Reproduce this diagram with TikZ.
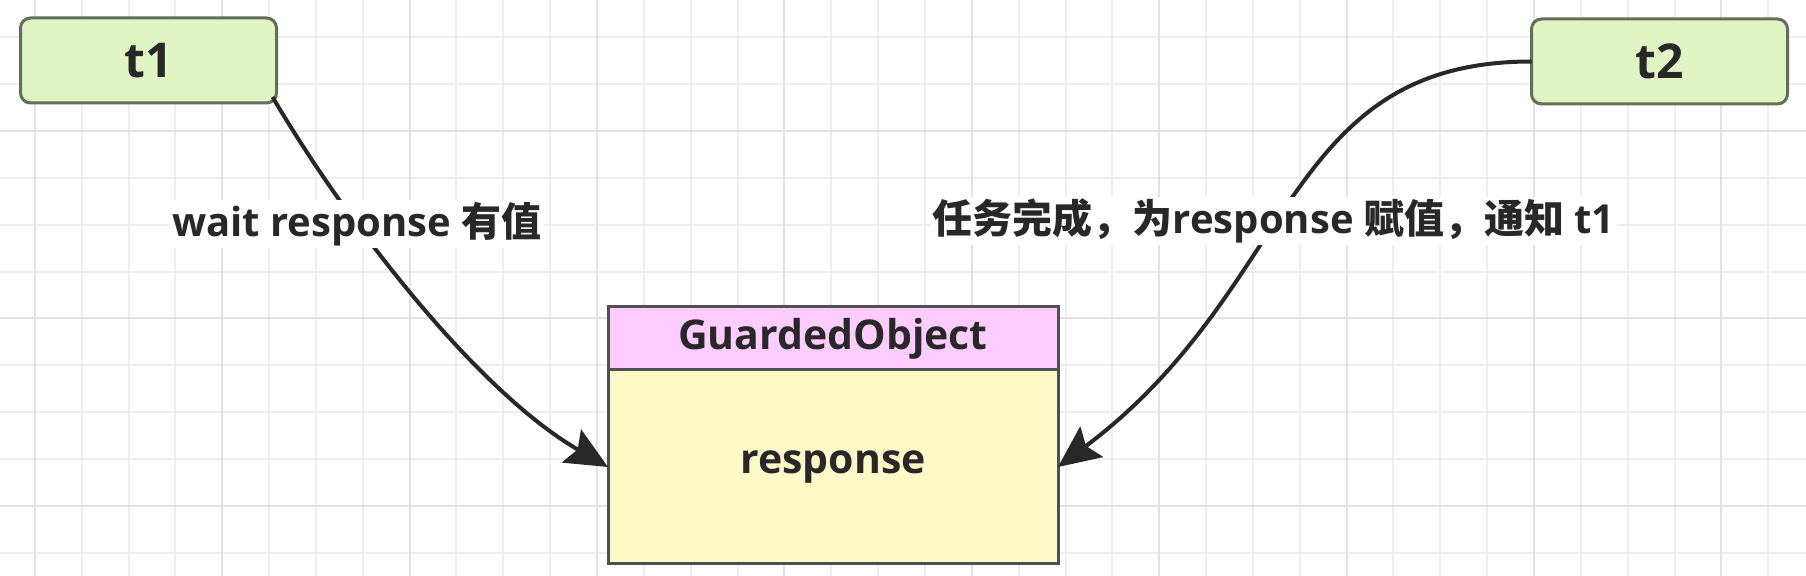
\documentclass[tikz,border=0pt]{standalone}
\usepackage{fontspec}
\setmainfont{Open Sans}
\newfontfamily\cjk{Noto Sans CJK SC}
\usetikzlibrary{positioning,arrows.meta,calc}
\definecolor{tfill}{RGB}{225,245,196}
\definecolor{tline}{RGB}{98,110,90}
\definecolor{headfill}{RGB}{255,204,255}
\definecolor{bodyfill}{RGB}{255,249,200}
\definecolor{boxline}{RGB}{80,80,80}
\definecolor{ink}{RGB}{40,40,40}
\definecolor{gridminor}{RGB}{238,238,238}
\definecolor{gridmajor}{RGB}{226,226,226}
\begin{document}
\begin{tikzpicture}[x=0.5pt,y=-0.5pt,
		thread/.style={draw=tline,fill=tfill,line width=1.5pt,rounded corners=5pt,minimum width=128pt,minimum height=42.5pt,inner sep=0pt,outer sep=0pt,text=ink,font=\bfseries\fontsize{24}{28}\selectfont},
		head/.style={draw=boxline,fill=headfill,line width=1.5pt,minimum width=225pt,minimum height=31.5pt,inner sep=0pt,outer sep=0pt,text=ink,font=\bfseries\fontsize{20.5}{24}\selectfont},
		body/.style={head,fill=bodyfill,minimum height=97pt},
		conn/.style={draw=ink,line width=2pt,-{Stealth[length=21pt,width=19pt,inset=3.5pt]}},
		lbl/.style={fill=white,inner sep=1pt,text=ink,font=\bfseries\fontsize{20}{24}\selectfont}]
	\useasboundingbox (0,0) rectangle (1806,576);
	\fill[white] (0,0) rectangle (1806,576);
	% grid
	\foreach \i in {0,...,37}
		\draw[gridminor,line width=1pt] (34.8+46.85*\i,0) -- (34.8+46.85*\i,576);
	\foreach \j in {0,...,11}
		\draw[gridminor,line width=1pt] (0,37.4+46.85*\j) -- (1806,37.4+46.85*\j);
	\foreach \i in {0,4,...,36}
		\draw[gridmajor,line width=1pt] (34.8+46.85*\i,0) -- (34.8+46.85*\i,576);
	\foreach \j in {2,6,10}
		\draw[gridmajor,line width=1pt] (0,37.4+46.85*\j) -- (1806,37.4+46.85*\j);
	% threads and the shared object
	\node[thread] (t1) at (148.5,60.5) {t1};
	\node[thread] (t2) at (1659.5,61.5) {t2};
	\node[head] (head) at (833,338.5) {GuardedObject};
	\node[body,below=0pt of head] (obj) {response};
	% connectors
	\draw[conn] ($(t1.south east)+(-4,-6)$) .. controls +(76,129) and +(-130,-75) .. (obj.west)
		node[lbl,pos=0.31] {wait response {\cjk 有值}};
	\draw[conn] (t2.west) .. controls +(-250,0) and +(240,-180) .. (obj.east)
		node[lbl,pos=0.55] {{\cjk 任务完成，为}response {\cjk 赋值，通知} t1};
\end{tikzpicture}
\end{document}
